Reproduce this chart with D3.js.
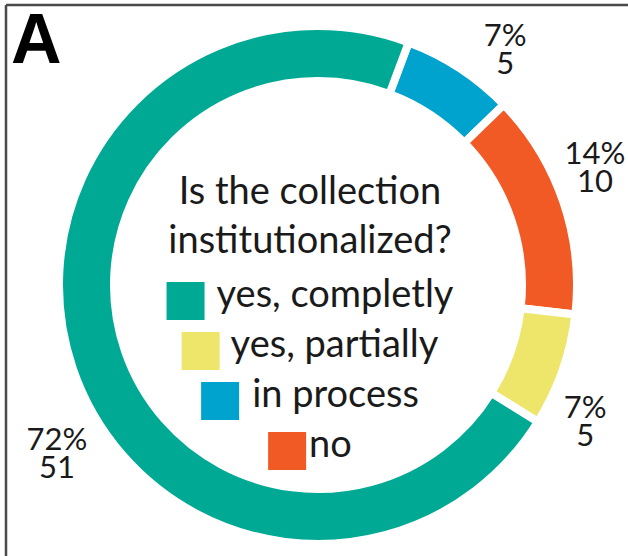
<!DOCTYPE html>
<html><head><meta charset="utf-8">
<script src="https://cdn.jsdelivr.net/npm/d3@7"></script>
<style>
html,body{margin:0;padding:0;background:#fff;}
svg{display:block;}
text{font-family:Lato,"Noto Sans",sans-serif;fill:#1a1a1a;}
</style></head>
<body><svg id="c" width="628" height="556"></svg>
<script>
// ---- data ----
const categories = ["yes, completly", "yes, partially", "in process", "no"];
const counts = [51, 5, 5, 10];
const percents = ["72%", "7%", "7%", "14%"];
const colors = ["#00A994", "#EDE66B", "#00A3CE", "#F15A24"];
const drawOrder = [2, 3, 1, 0]; // clockwise from start angle
const titleLines = ["Is the collection", "institutionalized?"];
const panelLetter = "A";

// ---- layout ----
const W = 628, H = 556;
const cx = 318, cy = 285, rOuter = 259, rInner = 204;
const startDeg = 20.5;
const labelR = 300;
const labelNudge = {2: [23, 14], 3: [-7, -22], 1: [-16, 36], 0: [23, 70]};

const svg = d3.select("#c");
svg.append("rect").attr("width", W).attr("height", H).attr("fill", "#fff");
// frame (top + left)
svg.append("line").attr("x1", 6).attr("x2", W).attr("y1", 5).attr("y2", 5)
  .attr("stroke", "#4a4a4a").attr("stroke-width", 2.5);
svg.append("line").attr("x1", 6).attr("x2", 6).attr("y1", 5).attr("y2", H)
  .attr("stroke", "#4a4a4a").attr("stroke-width", 2.5);

const g = svg.append("g").attr("transform", `translate(${cx},${cy})`);
const start = startDeg * Math.PI / 180;
const pie = d3.pie().sort(null).value(i => counts[i])
  .startAngle(start).endAngle(start + 2 * Math.PI);
const arcs = pie(drawOrder);
const arc = d3.arc().innerRadius(rInner).outerRadius(rOuter);
const labelArc = d3.arc().innerRadius(labelR).outerRadius(labelR);

g.selectAll("path.slice").data(arcs).join("path")
  .attr("class", "slice")
  .attr("d", arc)
  .attr("fill", d => colors[d.data])
  .attr("stroke", "#fff").attr("stroke-width", 8).attr("stroke-linejoin", "miter");

const lab = g.selectAll("g.lab").data(arcs).join("g").attr("class", "lab")
  .attr("transform", d => {
    const c = labelArc.centroid(d), n = labelNudge[d.data];
    return `translate(${c[0] + n[0]},${c[1] + n[1]})`;
  });
lab.append("text").attr("text-anchor", "middle").attr("y", -2)
  .style("font-size", "31px").text(d => percents[d.data]);
lab.append("text").attr("text-anchor", "middle").attr("y", 26)
  .style("font-size", "31px").text(d => counts[d.data]);

// title
svg.selectAll("text.title").data(titleLines).join("text").attr("class", "title")
  .attr("x", 310).attr("y", (d, i) => 204 + i * 49)
  .attr("text-anchor", "middle").style("font-size", "38px").text(d => d);

// legend
const legendGap = [12, 11, 13, 3];
const sq = 38;
categories.forEach((c, i) => {
  const row = svg.append("g");
  const t = row.append("text").attr("y", 307 + i * 50).style("font-size", "38px").text(c);
  const tw = t.node().getComputedTextLength();
  const total = sq + legendGap[i] + tw;
  const x0 = 310 - total / 2;
  row.append("rect").attr("x", x0).attr("y", 282 + i * 50).attr("width", sq).attr("height", sq)
    .attr("fill", colors[i]);
  t.attr("x", x0 + sq + legendGap[i]);
});

// panel letter
svg.append("text").attr("x", 11).attr("y", 63)
  .style("font-family", "'Liberation Sans',Arial,sans-serif").style("font-weight", "bold")
  .style("font-size", "70px").style("fill", "#000").text(panelLetter);
</script></body></html>
